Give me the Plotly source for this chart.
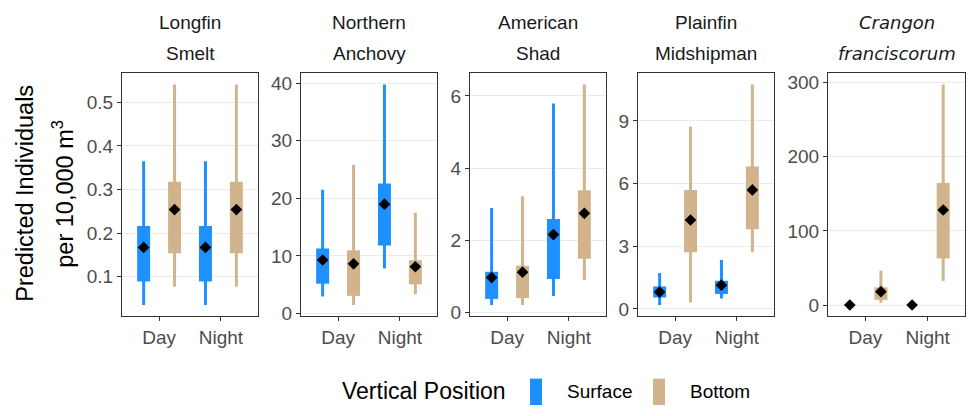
import plotly.graph_objects as go

# ---------------- data ----------------
title_line1 = ["Longfin", "Northern", "American", "Plainfin", "<i>Crangon</i>"]
title_line2 = ["Smelt", "Anchovy", "Shad", "Midshipman", "<i>franciscorum</i>"]
periods = ["Day", "Night"]
positions = ["Surface", "Bottom"]

# per species: [Day, Night]
surface_low = [[0.035, 0.035], [2.97, 7.84], [0.21, 0.46], [0.19, 0.50], [0.0, 0.0]]
surface_q1 = [[0.089, 0.089], [5.18, 11.8], [0.38, 0.93], [0.55, 0.72], [0.0, 0.0]]
surface_mid = [[0.167, 0.167], [9.3, 19.0], [0.97, 2.16], [0.81, 1.14], [0.0, 0.0]]
surface_q3 = [[0.216, 0.216], [11.3, 22.6], [1.13, 2.59], [1.08, 1.35], [0.0, 0.0]]
surface_high = [[0.365, 0.365], [21.5, 39.8], [2.90, 5.79], [1.72, 2.35], [0.0, 0.0]]

bottom_low = [[0.077, 0.077], [1.48, 3.36], [0.21, 0.90], [0.31, 2.72], [3.0, 32.5]]
bottom_q1 = [[0.154, 0.154], [3.07, 5.06], [0.40, 1.49], [2.71, 3.82], [7.0, 62.9]]
bottom_mid = [[0.254, 0.254], [8.64, 8.13], [1.12, 2.75], [4.26, 5.70], [18.0, 128.2]]
bottom_q3 = [[0.318, 0.318], [11.0, 9.27], [1.30, 3.39], [5.69, 6.82], [23.8, 164.7]]
bottom_high = [[0.541, 0.541], [25.8, 17.5], [3.22, 6.32], [8.73, 10.75], [46.3, 297.7]]

y_tickvals = [[0.1, 0.2, 0.3, 0.4, 0.5], [0, 10, 20, 30, 40], [0, 2, 4, 6], [0, 3, 6, 9], [0, 100, 200, 300]]
y_ticktext = [["0.1", "0.2", "0.3", "0.4", "0.5"], ["0", "10", "20", "30", "40"],
              ["0", "2", "4", "6"], ["0", "3", "6", "9"], ["0", "100", "200", "300"]]

# ---------------- style / layout ----------------
W, H = 968, 416
panel_px = [(122, 258), (301, 437), (470, 606), (638, 774), (828, 965)]
panel_top, panel_bottom = 74, 322
colors = {"Surface": "#1E90FF", "Bottom": "#D2B48C"}
offsets = {"Surface": -0.25, "Bottom": 0.25}
FONT = "Liberation Sans, Arial, Helvetica, sans-serif"

fig = go.Figure()
ydom = [(H - panel_bottom) / H, (H - panel_top) / H]

series = {
    "Surface": (surface_low, surface_q1, surface_mid, surface_q3, surface_high),
    "Bottom": (bottom_low, bottom_q1, bottom_mid, bottom_q3, bottom_high),
}

for i in range(5):
    xa = "x" if i == 0 else f"x{i+1}"
    ya = "y" if i == 0 else f"y{i+1}"
    all_vals = []
    # whiskers
    for pos in positions:
        lo, q1, mid, q3, hi = series[pos]
        xs, ys = [], []
        for j in range(2):
            xp = j + 1 + offsets[pos]
            xs += [xp, xp, None]
            ys += [lo[i][j], hi[i][j], None]
            all_vals += [lo[i][j], hi[i][j]]
        fig.add_trace(go.Scatter(x=xs, y=ys, mode="lines", xaxis=xa, yaxis=ya,
                                 line=dict(color=colors[pos], width=3), showlegend=False,
                                 hoverinfo="skip"))
    # boxes
    for pos in positions:
        lo, q1, mid, q3, hi = series[pos]
        xs = [j + 1 + offsets[pos] for j in range(2)]
        fig.add_trace(go.Bar(x=xs, y=[q3[i][j] - q1[i][j] for j in range(2)],
                             base=[q1[i][j] for j in range(2)], width=0.21,
                             marker=dict(color=colors[pos], line=dict(width=0)),
                             xaxis=xa, yaxis=ya, showlegend=False, name=pos))
    # means
    for pos in positions:
        lo, q1, mid, q3, hi = series[pos]
        xs = [j + 1 + offsets[pos] for j in range(2)]
        fig.add_trace(go.Scatter(x=xs, y=[mid[i][j] for j in range(2)], mode="markers",
                                 marker=dict(symbol="diamond", size=9, color="black",
                                             line=dict(width=0)),
                                 xaxis=xa, yaxis=ya, showlegend=False))

    vmin, vmax = min(all_vals), max(all_vals)
    pad = 0.05 * (vmax - vmin)
    x0, x1 = panel_px[i]
    axis_common = dict(showline=True, mirror=True, linecolor="#333333", linewidth=1,
                       ticks="outside", ticklen=4, tickcolor="#333333", tickwidth=1,
                       zeroline=False, tickfont=dict(family=FONT, size=19, color="#4D4D4D"))
    fig.update_layout(**{
        ("xaxis" if i == 0 else f"xaxis{i+1}"): dict(
            domain=[x0 / W, x1 / W], anchor=ya, range=[0.4, 2.6],
            tickvals=[1, 2], ticktext=periods, showgrid=False, **axis_common),
        ("yaxis" if i == 0 else f"yaxis{i+1}"): dict(
            domain=ydom, anchor=xa, range=[vmin - pad, vmax + pad],
            tickvals=y_tickvals[i], ticktext=y_ticktext[i],
            showgrid=True, gridcolor="#EBEBEB", gridwidth=1.2, **axis_common),
    })

annotations = []
for i in range(5):
    x0, x1 = panel_px[i]
    cx = (x0 + x1) / 2 / W
    fam = "DejaVu Sans, sans-serif" if i == 4 else FONT
    fs = 18 if i == 4 else 19
    for txt, ypx in ((title_line1[i], 22), (title_line2[i], 54)):
        annotations.append(dict(text=txt, x=cx, y=1 - ypx / H, xref="paper", yref="paper",
                                xanchor="center", yanchor="middle", showarrow=False,
                                font=dict(family=fam, size=fs, color="#1A1A1A")))

# y-axis title
annotations.append(dict(text="Predicted Individuals", x=25 / W, y=1 - 197 / H, xref="paper",
                        yref="paper", xanchor="center", yanchor="middle", textangle=-90,
                        showarrow=False, font=dict(family=FONT, size=23.5, color="black")))
annotations.append(dict(text="per 10,000 m<sup>3</sup>", x=63 / W, y=1 - 197 / H, xref="paper",
                        yref="paper", xanchor="center", yanchor="middle", textangle=-90,
                        showarrow=False, font=dict(family=FONT, size=23.5, color="black")))

# legend (manual)
annotations.append(dict(text="Vertical Position", x=340 / W, y=1 - 399 / H, xref="paper",
                        yref="paper", xanchor="left", yanchor="middle", showarrow=False,
                        font=dict(family=FONT, size=23, color="black")))
legend_keys = [("Surface", 530, 565), ("Bottom", 653, 688)]
shapes = []
for pos, kx, tx in legend_keys:
    shapes.append(dict(type="rect", xref="paper", yref="paper", x0=kx / W, x1=(kx + 12) / W,
                       y0=1 - 413 / H, y1=1 - 386 / H, fillcolor=colors[pos],
                       line=dict(width=0)))
    annotations.append(dict(text=pos, x=tx / W, y=1 - 399 / H, xref="paper", yref="paper",
                            xanchor="left", yanchor="middle", showarrow=False,
                            font=dict(family=FONT, size=19, color="black")))

fig.update_layout(width=W, height=H, margin=dict(l=0, r=0, t=0, b=0),
                  paper_bgcolor="white", plot_bgcolor="white", barmode="overlay",
                  showlegend=False, annotations=annotations, shapes=shapes,
                  font=dict(family=FONT))

fig.write_html("out.html")
